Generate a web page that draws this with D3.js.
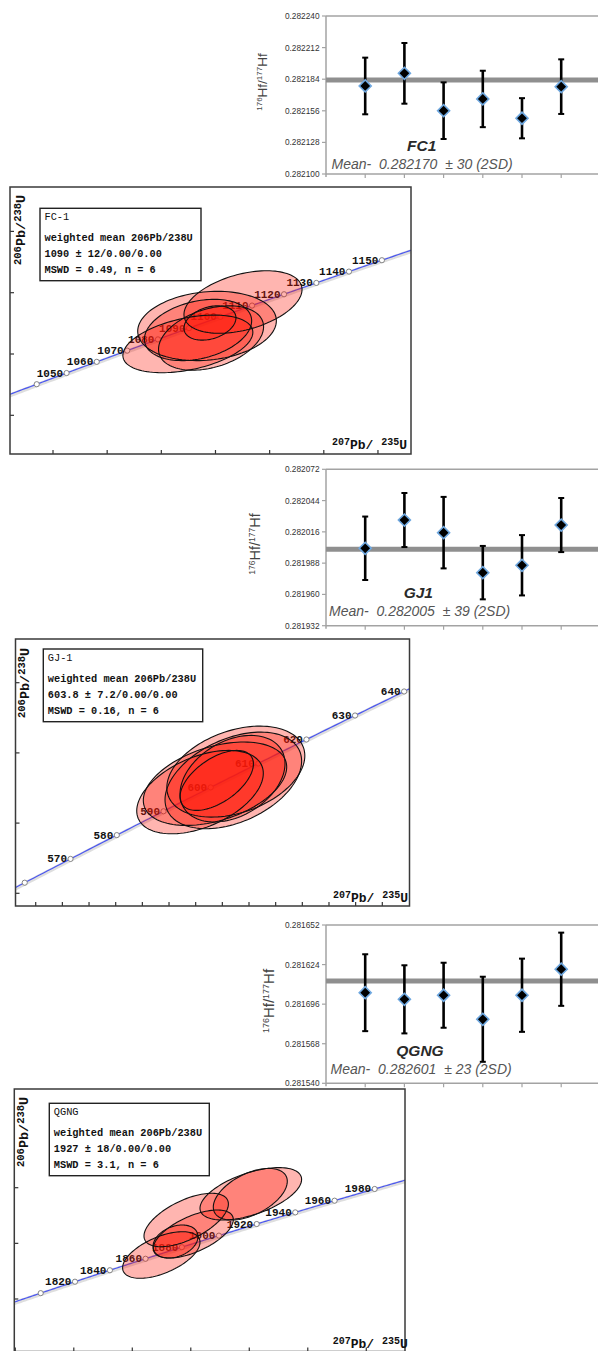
<!DOCTYPE html>
<html>
<head>
<meta charset="utf-8">
<script src="https://cdn.jsdelivr.net/npm/d3@7"></script>
<style>
  body { margin: 0; background: #fff; }
  svg { display: block; }
</style>
</head>
<body>
<svg id="fig" width="598" height="1351"></svg>
<script>
const svg = d3.select("#fig");

// ---------- Hf isotope data (176Hf/177Hf per spot, 2SD error) ----------
const hfNames = ["FC1", "GJ1", "QGNG"];
const hfMeanLabels = [
    "Mean-  0.282170  \u00b1 30 (2SD)",
    "Mean-  0.282005  \u00b1 39 (2SD)",
    "Mean-  0.282601  \u00b1 23 (2SD)"
];

const fc1Hf = [0.2821780, 0.2821892, 0.2821561, 0.2821665, 0.2821494, 0.2821774];
const fc1HfErr = [0.0000251, 0.0000269, 0.0000251, 0.0000250, 0.0000178, 0.0000242];
const fc1HfMean = 0.2821833;
const fc1HfTicks = [0.282100, 0.282128, 0.282156, 0.282184, 0.282212, 0.282240];
const fc1HfTickLabels = ["0.282100", "0.282128", "0.282156", "0.282184", "0.282212", "0.282240"];

const gj1Hf = [0.2820013, 0.2820266, 0.2820153, 0.2819795, 0.2819861, 0.2820221];
const gj1HfErr = [0.0000284, 0.0000242, 0.0000320, 0.0000239, 0.0000270, 0.0000242];
const gj1HfMean = 0.2820004;
const gj1HfTicks = [0.281932, 0.281960, 0.281988, 0.282016, 0.282044, 0.282072];
const gj1HfTickLabels = ["0.281932", "0.281960", "0.281988", "0.282016", "0.282044", "0.282072"];

const qgngHf = [0.2816041, 0.2815994, 0.2816023, 0.2815853, 0.2816023, 0.2816207];
const qgngHfErr = [0.0000272, 0.0000241, 0.0000230, 0.0000301, 0.0000259, 0.0000259];
const qgngHfMean = 0.2816124;
const qgngHfTicks = [0.281540, 0.281568, 0.281596, 0.281624, 0.281652];
const qgngHfTickLabels = ["0.281540", "0.281568", "0.281696", "0.281624", "0.281652"];

// ---------- U-Pb concordia data (207Pb/235U, 206Pb/238U, 2s errors, rho) ----------
const fcLegend = ["FC-1", "weighted mean 206Pb/238U", "1090 \u00b1 12/0.00/0.00", "MSWD = 0.49, n = 6"];
const fcX = [1.9754, 1.9422, 1.9245, 1.9339, 1.9459, 1.9449];
const fcXErr = [0.0545, 0.0640, 0.0600, 0.0495, 0.0485, 0.0240];
const fcY = [0.18848, 0.18457, 0.18165, 0.18392, 0.18261, 0.18506];
const fcYErr = [0.00510, 0.00565, 0.00470, 0.00500, 0.00525, 0.00280];
const fcRho = [0.40, 0.15, 0.40, 0.30, 0.35, 0.30];
const fcAges = [1040, 1050, 1060, 1070, 1080, 1090, 1100, 1110, 1120, 1130, 1140, 1150];
const fcAgeLabels = ["", "1050", "1060", "1070", "1080", "1090", "1100", "1110", "1120", "1130", "1140", "1150"];
const fcXTicks = [1.80, 1.85, 1.90, 1.95, 2.00, 2.05, 2.10];
const fcYTicks = [0.17, 0.18, 0.19, 0.20];

const gjLegend = ["GJ-1", "weighted mean 206Pb/238U", "603.8 \u00b1 7.2/0.00/0.00", "MSWD = 0.16, n = 6"];
const gjX = [0.80163, 0.80725, 0.81506, 0.81412, 0.81382, 0.80789];
const gjXErr = [0.02374, 0.02689, 0.02588, 0.02562, 0.01969, 0.01377];
const gjY = [0.097208, 0.097806, 0.098668, 0.098041, 0.098162, 0.098041];
const gjYErr = [0.00297, 0.00297, 0.003241, 0.00344, 0.003084, 0.002137];
const gjRho = [0.45, 0.40, 0.35, 0.40, 0.35, 0.55];
const gjAges = [560, 570, 580, 590, 600, 610, 620, 630, 640];
const gjAgeLabels = ["", "570", "580", "590", "600", "610", "620", "630", "640"];
const gjXTicks = [0.74, 0.75, 0.76, 0.77, 0.78, 0.79, 0.80, 0.81, 0.82, 0.83, 0.84, 0.85, 0.86, 0.87];
const gjYTicks = [0.090, 0.095, 0.100, 0.105];

const qgLegend = ["QGNG", "weighted mean 206Pb/238U", "1927 \u00b1 18/0.00/0.00", "MSWD = 3.1, n = 6"];
const qgX = [5.2992, 5.3843, 5.4086, 5.3478, 5.6052, 5.6035];
const qgXErr = [0.1323, 0.1443, 0.1368, 0.0769, 0.1737, 0.1265];
const qgY = [0.335813, 0.348392, 0.343360, 0.340665, 0.357808, 0.357664];
const qgYErr = [0.008374, 0.009596, 0.008625, 0.00593, 0.009416, 0.009272];
const qgRho = [0.55, 0.60, 0.60, 0.30, 0.55, 0.50];
const qgAges = [1800, 1820, 1840, 1860, 1880, 1900, 1920, 1940, 1960, 1980];
const qgAgeLabels = ["", "1820", "1840", "1860", "1880", "1900", "1920", "1940", "1960", "1980"];
const qgXTicks = [4.8, 5.0, 5.2, 5.4, 5.6, 5.8, 6.0];
const qgYTicks = [0.32, 0.34, 0.36];

// decay constants (per Ma)
const L238 = 1.55125e-4;
const L235 = 9.8485e-4;
const r206 = t => Math.exp(L238 * t) - 1;
const r207 = t => Math.exp(L235 * t) - 1;

// ---------- Hf panels ----------
const hfPanels = [
    { vals: fc1Hf, errs: fc1HfErr, mean: fc1HfMean, ticks: fc1HfTicks, labels: fc1HfTickLabels,
      top: 16, bottom: 174, yLab: [266.5, 82], labSize: [13.5, 8], name: [421.7, 150.5], meanPos: [331.5, 169] },
    { vals: gj1Hf, errs: gj1HfErr, mean: gj1HfMean, ticks: gj1HfTicks, labels: gj1HfTickLabels,
      top: 469.3, bottom: 625.7, yLab: [260, 544], labSize: [14.5, 8.5], name: [418.3, 598], meanPos: [329, 616] },
    { vals: qgngHf, errs: qgngHfErr, mean: qgngHfMean, ticks: qgngHfTicks, labels: qgngHfTickLabels,
      top: 925, bottom: 1083.3, yLab: [273.5, 1001], labSize: [15, 9], name: [420, 1055.5], meanPos: [330.5, 1074] }
];

function drawHf(p, i) {
    const g = svg.append("g").attr("class", "hf");
    const x = d3.scaleLinear().domain([0, 7]).range([326, 326 + 7 * 39.2]);
    const y = d3.scaleLinear().domain([p.ticks[0], p.ticks[p.ticks.length - 1]]).range([p.bottom, p.top]);
    const axisColor = "#a3a3a3";

    // frame lines
    g.append("line").attr("x1", x(0)).attr("x2", 598).attr("y1", p.top).attr("y2", p.top)
        .attr("stroke", axisColor).attr("stroke-width", 1.5);
    g.append("line").attr("x1", x(0)).attr("x2", 598).attr("y1", p.bottom).attr("y2", p.bottom)
        .attr("stroke", axisColor).attr("stroke-width", 1.5);
    g.append("line").attr("x1", x(0)).attr("x2", x(0)).attr("y1", p.top).attr("y2", p.bottom + 3)
        .attr("stroke", axisColor).attr("stroke-width", 1.5);

    // y ticks + labels
    g.selectAll(".yt").data(p.ticks).join("line")
        .attr("x1", x(0) - 4).attr("x2", x(0))
        .attr("y1", d => y(d)).attr("y2", d => y(d))
        .attr("stroke", axisColor).attr("stroke-width", 1.2);
    g.selectAll(".yl").data(p.ticks).join("text")
        .attr("x", x(0) - 6.5).attr("y", d => y(d) + 3)
        .attr("text-anchor", "end")
        .style("font-family", "Liberation Sans, Arial, sans-serif")
        .style("font-size", "8.3px").style("fill", "#333")
        .text((d, k) => p.labels[k]);

    // category ticks
    g.selectAll(".xt").data(d3.range(1, 7)).join("line")
        .attr("x1", d => x(d)).attr("x2", d => x(d))
        .attr("y1", p.bottom).attr("y2", p.bottom + 4)
        .attr("stroke", axisColor).attr("stroke-width", 1.2);

    // mean line
    g.append("line").attr("x1", x(0)).attr("x2", 598)
        .attr("y1", y(p.mean)).attr("y2", y(p.mean))
        .attr("stroke", "#8f8f8f").attr("stroke-width", 5);

    // error bars
    const bars = g.selectAll(".eb").data(p.vals).join("g");
    bars.append("line")
        .attr("x1", (d, k) => x(k + 1)).attr("x2", (d, k) => x(k + 1))
        .attr("y1", (d, k) => y(d + p.errs[k])).attr("y2", (d, k) => y(d - p.errs[k]))
        .attr("stroke", "#000").attr("stroke-width", 2.6);
    bars.append("line")
        .attr("x1", (d, k) => x(k + 1) - 3).attr("x2", (d, k) => x(k + 1) + 3)
        .attr("y1", (d, k) => y(d + p.errs[k])).attr("y2", (d, k) => y(d + p.errs[k]))
        .attr("stroke", "#000").attr("stroke-width", 2);
    bars.append("line")
        .attr("x1", (d, k) => x(k + 1) - 3).attr("x2", (d, k) => x(k + 1) + 3)
        .attr("y1", (d, k) => y(d - p.errs[k])).attr("y2", (d, k) => y(d - p.errs[k]))
        .attr("stroke", "#000").attr("stroke-width", 2);

    // diamonds
    g.selectAll(".pt").data(p.vals).join("path")
        .attr("d", d3.symbol().type(d3.symbolSquare).size(72))
        .attr("transform", (d, k) => `translate(${x(k + 1)},${y(d)}) rotate(45)`)
        .attr("fill", "#000").attr("stroke", "#6fa8e0").attr("stroke-width", 1.6);

    // y label 176Hf/177Hf
    const lab = g.append("text")
        .attr("transform", `translate(${p.yLab[0]},${p.yLab[1]}) rotate(-90)`)
        .attr("text-anchor", "middle")
        .style("font-family", "Liberation Sans, Arial, sans-serif")
        .style("fill", "#444");
    lab.append("tspan").attr("dy", -5).style("font-size", p.labSize[1] + "px").text("176");
    lab.append("tspan").attr("dy", 5).style("font-size", p.labSize[0] + "px").text("Hf/");
    lab.append("tspan").attr("dy", -5).style("font-size", p.labSize[1] + "px").text("177");
    lab.append("tspan").attr("dy", 5).style("font-size", p.labSize[0] + "px").text("Hf");

    // sample name + mean text
    g.append("text").attr("x", p.name[0]).attr("y", p.name[1])
        .attr("text-anchor", "middle")
        .style("font-family", "Liberation Sans, Arial, sans-serif")
        .style("font-size", "15.5px").style("font-weight", "bold").style("font-style", "italic")
        .style("fill", "#2a2a2a")
        .text(hfNames[i]);
    g.append("text").attr("x", p.meanPos[0]).attr("y", p.meanPos[1])
        .style("font-family", "Liberation Sans, Arial, sans-serif")
        .style("font-size", "14px").style("font-style", "italic")
        .style("white-space", "pre")
        .style("fill", "#555")
        .text(hfMeanLabels[i]);
}

hfPanels.forEach(drawHf);

// ---------- concordia panels ----------
const cPanels = [
    { id: "fc", x: fcX, xe: fcXErr, y: fcY, ye: fcYErr, rho: fcRho, ages: fcAges, ageLabels: fcAgeLabels,
      xTicks: fcXTicks, yTicks: fcYTicks, legend: fcLegend,
      frame: [10, 187, 411, 454], xDomain: [1.7603, 2.1305], yDomain: [0.16369, 0.20724], tRange: [1020, 1170],
      box: [40, 208.3, 201, 280.7], yLab: [25, 265], xLab: [332, 449] },
    { id: "gj", x: gjX, xe: gjXErr, y: gjY, ye: gjYErr, rho: gjRho, ages: gjAges, ageLabels: gjAgeLabels,
      xTicks: gjXTicks, yTicks: gjYTicks, legend: gjLegend,
      frame: [15.5, 639, 409.5, 906], xDomain: [0.73242, 0.8802], yDomain: [0.089095, 0.108113], tRange: [540, 660],
      box: [43.3, 649, 202.7, 721.7], yLab: [28.5, 718], xLab: [333, 901.5] },
    { id: "qg", x: qgX, xe: qgXErr, y: qgY, ye: qgYErr, rho: qgRho, ages: qgAges, ageLabels: qgAgeLabels,
      xTicks: qgXTicks, yTicks: qgYTicks, legend: qgLegend,
      frame: [14.3, 1089, 405, 1351.5], xDomain: [4.7966, 6.1324], yDomain: [0.301132, 0.395472], tRange: [1760, 2020],
      box: [49.3, 1103.3, 209.3, 1175.7], yLab: [27.5, 1167], xLab: [332.7, 1347.5] }
];

const mono = "Liberation Mono, Courier New, monospace";

function drawConcordia(p) {
    const [x0, y0, x1, y1] = p.frame;
    const x = d3.scaleLinear().domain(p.xDomain).range([x0, x1]);
    const y = d3.scaleLinear().domain(p.yDomain).range([y1, y0]);

    svg.append("clipPath").attr("id", "clip-" + p.id)
        .append("rect").attr("x", x0).attr("y", y0).attr("width", x1 - x0).attr("height", y1 - y0);

    const g = svg.append("g").attr("class", "concordia");
    const inner = g.append("g").attr("clip-path", `url(#clip-${p.id})`);

    // concordia curve with its uncertainty halo
    const ts = d3.range(p.tRange[0], p.tRange[1] + 1, 1);
    const curve = d3.line().x(t => x(r207(t))).y(t => y(r206(t)));
    inner.append("path").attr("d", curve(ts)).attr("fill", "none")
        .attr("stroke", "#c8c8c8").attr("stroke-width", 4).attr("opacity", 0.6)
        .attr("transform", "translate(0,1)");
    inner.append("path").attr("d", curve(ts)).attr("fill", "none")
        .attr("stroke", "#4a56f0").attr("stroke-width", 1.2);

    // age markers and labels
    inner.selectAll(".age").data(p.ages).join("circle")
        .attr("cx", d => x(r207(d))).attr("cy", d => y(r206(d))).attr("r", 2.6)
        .attr("fill", "#fff").attr("stroke", "#777").attr("stroke-width", 0.9);
    inner.selectAll(".agel").data(p.ages).join("text")
        .attr("x", d => x(r207(d)) - 3.5).attr("y", d => y(r206(d)) + 3.5)
        .attr("text-anchor", "end")
        .style("font-family", mono).style("font-size", "11px").style("font-weight", "bold")
        .style("fill", "#111")
        .text((d, k) => p.ageLabels[k]);

    // error ellipses
    const ring = (k) => d3.range(0, 120).map(j => {
        const a = j / 120 * 2 * Math.PI;
        const r = p.rho[k];
        return [
            x(p.x[k] + p.xe[k] * Math.cos(a)),
            y(p.y[k] + p.ye[k] * (r * Math.cos(a) + Math.sqrt(1 - r * r) * Math.sin(a)))
        ];
    });
    const ellLine = d3.line().curve(d3.curveLinearClosed);
    inner.selectAll(".ellf").data(p.x).join("path")
        .attr("d", (d, k) => ellLine(ring(k)))
        .attr("fill", "#ff1a0a").attr("fill-opacity", 0.32).attr("stroke", "none");
    inner.selectAll(".ells").data(p.x).join("path")
        .attr("d", (d, k) => ellLine(ring(k)))
        .attr("fill", "none").attr("stroke", "#111").attr("stroke-width", 1.1);

    // frame and inward ticks
    g.selectAll(".xt").data(p.xTicks).join("line")
        .attr("x1", d => x(d)).attr("x2", d => x(d))
        .attr("y1", y1).attr("y2", y1 - 4)
        .attr("stroke", "#333").attr("stroke-width", 1.2);
    g.selectAll(".yt").data(p.yTicks).join("line")
        .attr("x1", x0).attr("x2", x0 + 4)
        .attr("y1", d => y(d)).attr("y2", d => y(d))
        .attr("stroke", "#333").attr("stroke-width", 1.2);
    g.append("rect").attr("x", x0).attr("y", y0).attr("width", x1 - x0).attr("height", y1 - y0)
        .attr("fill", "none").attr("stroke", "#3a3a3a").attr("stroke-width", 1.5);

    // legend box
    const [bx0, by0, bx1, by1] = p.box;
    g.append("rect").attr("x", bx0).attr("y", by0).attr("width", bx1 - bx0).attr("height", by1 - by0)
        .attr("fill", "#fff").attr("stroke", "#222").attr("stroke-width", 1.4);
    const lineY = [11.7, 32.7, 48.5, 64.5];
    g.selectAll(".leg").data(p.legend).join("text")
        .attr("x", bx0 + 4.5).attr("y", (d, k) => by0 + lineY[k])
        .style("font-family", mono).style("font-size", "10.3px")
        .style("font-weight", (d, k) => k === 0 ? "normal" : "bold")
        .style("fill", "#111")
        .text(d => d);

    // axis labels
    const yl = g.append("text")
        .attr("transform", `translate(${p.yLab[0]},${p.yLab[1]}) rotate(-90)`)
        .style("font-family", mono).style("font-weight", "bold").style("fill", "#111");
    yl.append("tspan").attr("dy", -4).style("font-size", "10.5px").text("206");
    yl.append("tspan").attr("dy", 4).style("font-size", "13.5px").text("Pb/");
    yl.append("tspan").attr("dy", -4).style("font-size", "10.5px").text("238");
    yl.append("tspan").attr("dy", 4).style("font-size", "13.5px").text("U");

    const xl = g.append("text").attr("x", p.xLab[0]).attr("y", p.xLab[1])
        .style("font-family", mono).style("font-weight", "bold").style("fill", "#111")
        .style("white-space", "pre");
    xl.append("tspan").attr("dy", -4).style("font-size", "10px").text("207");
    xl.append("tspan").attr("dy", 4).style("font-size", "13px").text("Pb/ ");
    xl.append("tspan").attr("dy", -4).style("font-size", "10px").text("235");
    xl.append("tspan").attr("dy", 4).style("font-size", "13px").text("U");
}

cPanels.forEach(drawConcordia);
</script>
</body>
</html>
